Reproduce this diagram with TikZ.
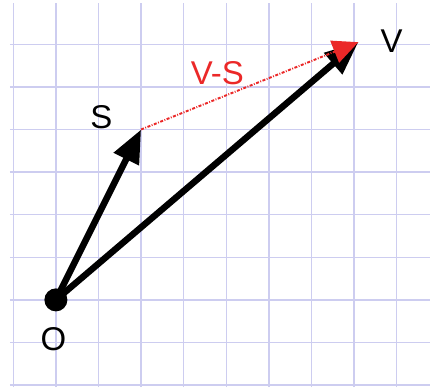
\documentclass[tikz,border=0pt]{standalone}
\usepackage{fontspec}
\setmainfont{Liberation Sans}
\usetikzlibrary{arrows.meta}
\definecolor{gridblue}{RGB}{205,205,240}
\definecolor{vsred}{RGB}{235,40,40}
\begin{document}
\begin{tikzpicture}[font=\fontsize{22}{26}\selectfont]
\useasboundingbox (-0.312,-0.094) rectangle (9.782,9.04);
\foreach \x in {0,...,9}
  \draw[gridblue,line width=1pt] (\x,-0.05) -- (\x,8.97);
\foreach \y in {0,...,8}
  \draw[gridblue,line width=1pt] (-0.08,\y) -- (9.782,\y);

\coordinate (O) at (1,2);
\coordinate (S) at (3,6);
\coordinate (V) at (8.1,8.05);

\draw[line width=4.3pt,-{Triangle[length=0.78cm,width=0.63cm]}] (O) -- (S);
\draw[line width=4.3pt,-{Triangle[length=0.78cm,width=0.63cm]}] (O) -- (V);
\draw[vsred,line width=1.3pt,dash pattern=on 2pt off 1pt on 0.6pt off 1pt,-{Triangle[length=0.6cm,width=0.55cm]}] (S) -- (V);
\fill (O) circle (0.27);

\node (lblS) at (2.07,6.3) {S};
\node[text=vsred] (lblVS) at (4.79,7.32) {V-S};
\node (lblV) at (8.88,8.08) {V};
\node (lblO) at (0.94,1.08) {O};
\end{tikzpicture}
\end{document}
